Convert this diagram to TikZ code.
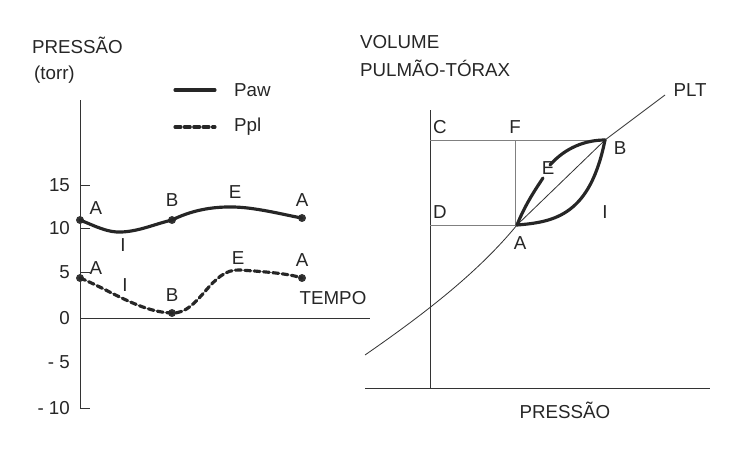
\documentclass[tikz,border=0pt]{standalone}
\usepackage{fontspec}
\setmainfont{Liberation Sans}
\begin{document}
\begin{tikzpicture}[x=0.03cm,y=-0.03cm,
  thin/.style={line width=0.7pt,black!80},
  thick2/.style={line width=2.7pt,black!85,line cap=round},
  dot/.style={circle,fill=black!80,inner sep=2.4pt},
  lab/.style={font=\fontsize{16}{19}\selectfont,text=black!85}]
\useasboundingbox (0,0) rectangle (753,474);
% left axes
\draw[thin] (80,100) -- (80,408) -- (90,408);
\foreach \y in {185,228,272} \draw[thin] (80,\y) -- (90,\y);
\draw[thin] (80,318) -- (370,318);
\foreach \v/\y in {15/185,10/228,5/272,0/318,- 5/362,- 10/408}
  \node[lab,anchor=east] at (74,\y) {\v};
\node[lab,anchor=west] at (28,45) {PRESSÃO};
\node[lab,anchor=west] at (30,75) {(torr)};
\node[lab] at (333,298) {TEMPO};
% legend
\draw[thick2] (175,90) -- (215,90);
\node[lab,anchor=west] at (230,90) {Paw};
\draw[thick2,dash pattern=on 5pt off 3pt] (175,127) -- (215,127);
\node[lab,anchor=west] at (230,127) {Ppl};
% Paw
\node[dot] (pa1) at (80,220) {};
\node[dot] (pb) at (172,220) {};
\node[dot] (pa2) at (302,218) {};
\draw[thick2] (pa1.center) .. controls (95,226) and (108,233) .. (122,232)
  .. controls (140,231) and (155,224) .. (pb.center)
  .. controls (200,206) and (230,205) .. (255,209)
  .. controls (275,212) and (290,216) .. (pa2.center);
\node[lab] at (96,208) {A};
\node[lab] at (123,245) {I};
\node[lab] at (172,200) {B};
\node[lab] at (235,192) {E};
\node[lab] at (302,200) {A};
% Ppl
\node[dot] (qa1) at (80,278) {};
\node[dot] (qb) at (172,313) {};
\node[dot] (qa2) at (302,278) {};
\draw[thick2,dash pattern=on 5pt off 3pt] (qa1.center) .. controls (110,290) and (140,312) .. (qb.center)
  .. controls (200,314) and (210,268) .. (240,270)
  .. controls (270,272) and (290,274) .. (qa2.center);
\node[lab] at (96,268) {A};
\node[lab] at (125,285) {I};
\node[lab] at (172,295) {B};
\node[lab] at (238,258) {E};
\node[lab] at (302,260) {A};
% right axes
\draw[thin] (430,110) -- (430,388);
\draw[thin] (365,388) -- (710,388);
\node[lab,anchor=west] at (356,42) {VOLUME};
\node[lab,anchor=west] at (356,68) {PULMÃO-TÓRAX};
\node[lab] at (565,410) {PRESSÃO};
\coordinate (A) at (517,225);
\coordinate (B) at (605,140);
\draw[thin] (365,355) .. controls (430,310) and (480,270) .. (A) -- (B) -- (665,95);
\node[lab] at (690,90) {PLT};
\draw[thin,black!50] (430,140) -- (B);
\draw[thin,black!50] (430,225) -- (A);
\draw[thin,black!50] (515,140) -- (515,225);
\draw[thick2] (A) .. controls (525,205) and (535,190) .. (543,178);
\draw[thick2] (550,165) .. controls (565,148) and (585,140) .. (B);
\draw[thick2] (A) .. controls (555,222) and (590,215) .. (B);
\node[lab] at (440,127) {C};
\node[lab] at (515,127) {F};
\node[lab] at (440,212) {D};
\node[lab] at (548,168) {E};
\node[lab] at (620,148) {B};
\node[lab] at (605,212) {I};
\node[lab] at (520,243) {A};
\end{tikzpicture}
\end{document}
